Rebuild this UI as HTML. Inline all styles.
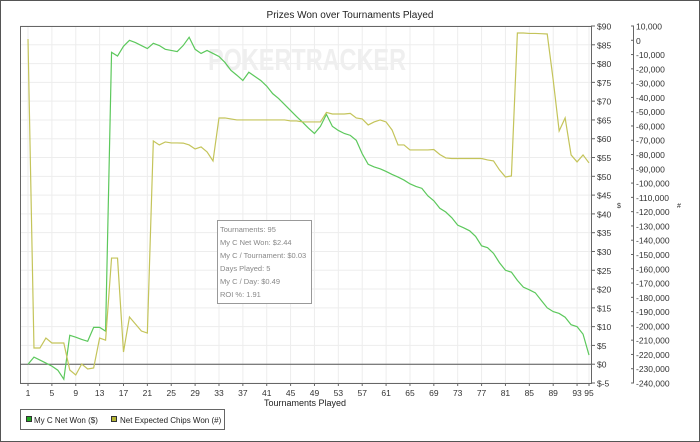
<!DOCTYPE html>
<html><head><meta charset="utf-8"><style>
html,body{margin:0;padding:0;background:#fff}
#wrap{position:relative;width:700px;height:442px;overflow:hidden;font-family:"Liberation Sans",sans-serif}
svg{position:absolute;left:0;top:0}
</style></head><body>
<div id="wrap">
<svg id="chart" width="700" height="442"></svg>
</div>
<script>
const tournaments = Array.from({length:95},(_,i)=>i+1);
const netWon = [0,1.9,1.1,0.3,-0.5,-1.6,-4,7.7,7.2,6.6,6.1,9.8,9.8,8.8,83,82,84.6,86.2,85.6,84.8,84,85.4,84.8,83.8,83.5,83.2,84.8,87,83.8,82.7,83.5,82.7,81.9,80.3,78.2,76.9,75.5,77.7,76.6,75.5,74,72,70.7,69.1,67.5,65.9,64.4,62.8,61.4,63.3,66.5,63.3,62.2,61.4,60.9,59.6,56,53.2,52.5,52,51.3,50.5,49.8,49,48,47.3,46.8,44.8,43.5,41.5,40.5,39,37,36.3,35.5,34,31.5,31,29.5,27,25,24.5,22.3,20.5,19.8,19,17,15,14,13.5,12.5,10.5,10,8,2.44];
const chipsK = [0.9,-215.5,-215.5,-208.5,-212,-212,-212,-230.9,-234.4,-226.7,-230.2,-229.5,-208.5,-210,-152.5,-152.5,-218.3,-193.8,-198.7,-203.6,-205,-70.5,-73.3,-71.2,-71.9,-71.9,-72,-73.3,-76.1,-74.7,-78.2,-84.5,-54.4,-54.4,-55.1,-55.8,-55.8,-55.8,-55.8,-55.8,-55.8,-55.8,-55.8,-55.8,-56.5,-56.5,-57.2,-57.2,-57.2,-57.2,-50.5,-51.6,-51.6,-51.6,-51.2,-54.4,-55.1,-59.3,-57.2,-55.8,-57.2,-62.8,-73.3,-73.3,-76.8,-76.8,-76.8,-76.8,-76.5,-80,-82.4,-82.8,-82.8,-82.8,-82.8,-82.8,-82.8,-83.8,-84.5,-90.8,-95.7,-95,5.1,5.1,4.8,4.8,4.6,4.4,-27.8,-63.5,-54.4,-80.3,-85.2,-80.3,-85.9];
const xTicks = [1,5,9,13,17,21,25,29,33,37,41,45,49,53,57,61,65,69,73,77,81,85,89,93,95];
const leftTicks = [90,85,80,75,70,65,60,55,50,45,40,35,30,25,20,15,10,5,0,-5];
const rightTicks = [10,0,-10,-20,-30,-40,-50,-60,-70,-80,-90,-100,-110,-120,-130,-140,-150,-160,-170,-180,-190,-200,-210,-220,-230,-240];

const L=20,R=591,T=26,B=383;
const x=t=>28+(t-1)*(561/94);
const yD=v=>T+(90-v)*(B-T)/95;
const yC=k=>T+(10-k)*(B-T)/250;
const NS='http://www.w3.org/2000/svg';
const svg=document.getElementById('chart');
function mk(tag,attrs,parent){const e=document.createElementNS(NS,tag);for(const k in attrs)e.setAttribute(k,attrs[k]);(parent||svg).appendChild(e);return e;}

mk('rect',{x:0.5,y:0.5,width:699,height:441,fill:'#fff',stroke:'#555'});
let t=mk('text',{x:350,y:18,'font-size':10,'text-anchor':'middle',fill:'#222'});t.textContent='Prizes Won over Tournaments Played';



for(const v of leftTicks){const g=mk('line',{x1:L,x2:R,y1:yD(v),y2:yD(v),stroke:'#ededed'});

}
for(const tk of xTicks){const g=mk('line',{x1:x(tk),x2:x(tk),y1:T,y2:B,stroke:'#ededed'});

}
t=mk('text',{x:208,y:70,'font-size':31,'font-weight':'bold',fill:'#efefef',textLength:198,lengthAdjust:'spacingAndGlyphs'});t.textContent='POKERTRACKER';



mk('path',{d:`M${L+.5},${T} V${B+.5} H${R+.5} V${T} M${L},${T+.5} H${R}`,stroke:'#666',fill:'none'});
const zl=mk('line',{x1:L,x2:R,y1:yD(0),y2:yD(0),stroke:'#555'});



for(const tk of xTicks){mk('line',{x1:x(tk),x2:x(tk),y1:B,y2:B+3,stroke:'#666'});
const l=mk('text',{x:x(tk),y:B+13,'font-size':8.5,'text-anchor':'middle',fill:'#333'});l.textContent=tk;

}
t=mk('text',{x:305,y:406,'font-size':9,'text-anchor':'middle',fill:'#222'});t.textContent='Tournaments Played';



for(const v of leftTicks){mk('line',{x1:R,x2:R+4,y1:yD(v),y2:yD(v),stroke:'#666'});
const l=mk('text',{x:R+6,y:yD(v)+3.5,'font-size':8.5,fill:'#333'});l.textContent=(v<0?'$-'+(-v):'$'+v);

}
t=mk('text',{x:619,y:208,'font-size':7,'text-anchor':'middle',fill:'#333'});t.textContent='$';


mk('line',{x1:633.5,x2:633.5,y1:T,y2:B,stroke:'#666'});
for(const k of rightTicks){mk('line',{x1:631,x2:634,y1:yC(k),y2:yC(k),stroke:'#666'});
const l=mk('text',{x:636,y:yC(k)+3.5,'font-size':8.5,fill:'#333'});l.textContent=(k<0?'-':'')+(k===0?'0':Math.abs(k)+',000');

}
t=mk('text',{x:679,y:208,'font-size':7,'text-anchor':'middle',fill:'#333'});t.textContent='#';



const pg=mk('polyline',{points:tournaments.map((tt,i)=>x(tt)+','+yD(netWon[i])).join(' '),fill:'none',stroke:'#5cc85c','stroke-width':1.2});


const py=mk('polyline',{points:tournaments.map((tt,i)=>x(tt)+','+yC(chipsK[i])).join(' '),fill:'none',stroke:'#c4c45a','stroke-width':1.2});



const tb=mk('g',{});


mk('rect',{x:217.5,y:220.5,width:94,height:83,fill:'#fff',stroke:'#999'},tb);
['Tournaments: 95','My C Net Won: $2.44','My C / Tournament: $0.03','Days Played: 5','My C / Day: $0.49','ROI %: 1.91'].forEach((s,i)=>{
const l=mk('text',{x:220,y:232+i*13,'font-size':7.5,fill:'#888'},tb);l.textContent=s;});

const lg=mk('g',{});


mk('rect',{x:20.5,y:409.5,width:204,height:20,fill:'#fff',stroke:'#666'},lg);
mk('rect',{x:26.5,y:416.5,width:5,height:5,fill:'#22aa22',stroke:'#333'},lg);
let l=mk('text',{x:34,y:423,'font-size':8,fill:'#222'},lg);l.textContent='My C Net Won ($)';
mk('rect',{x:111.5,y:416.5,width:5,height:5,fill:'#b5b535',stroke:'#333'},lg);
l=mk('text',{x:120,y:423,'font-size':8,fill:'#222'},lg);l.textContent='Net Expected Chips Won (#)';
</script>
</body></html>
